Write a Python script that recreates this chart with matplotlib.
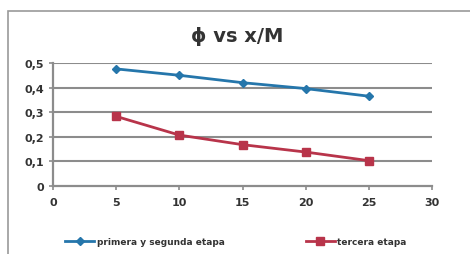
import numpy as np
import matplotlib
matplotlib.use('Agg')
import matplotlib.pyplot as plt
from matplotlib.patches import Rectangle
from matplotlib.ticker import FuncFormatter

# Data
x_vals = [5, 10, 15, 20, 25]
primera = [0.476, 0.450, 0.420, 0.396, 0.365]
tercera = [0.283, 0.207, 0.168, 0.138, 0.103]
labels = ['primera y segunda etapa', 'tercera etapa']

blue = '#2576ab'
red = '#b8344a'
grey = '#8c8c8c'
txt = '#333333'

fig = plt.figure(figsize=(4.7, 2.55), dpi=100)
fig.patch.set_facecolor('white')

# outer chart frame (cut off at right/bottom)
fig.patches.append(Rectangle((8/470, -0.1), 1.2, 1 - 12/255 + 0.1,
                             transform=fig.transFigure, fill=False,
                             edgecolor='#9a9a9a', lw=1.2))

ax = fig.add_axes([53/470, 1 - 187/255, 379/470, 123/255])
ax.set_xlim(0, 30)
ax.set_ylim(0, 0.5)
ax.set_xticks(np.arange(0, 31, 5))
ax.set_yticks(np.arange(0, 0.51, 0.1))
ax.yaxis.set_major_formatter(FuncFormatter(lambda v, p: ('%.1f' % v).replace('.', ',') if v > 0 else '0'))

for y in np.arange(0.1, 0.51, 0.1):
    ax.axhline(y, color=grey, lw=1.5, zorder=1)

ax.plot(x_vals, primera, color=blue, lw=2, marker='D', ms=4, label=labels[0], zorder=3)
ax.plot(x_vals, tercera, color=red, lw=2, marker='s', ms=6, label=labels[1], zorder=3)

for s in ['top', 'right']:
    ax.spines[s].set_visible(False)
for s in ['left', 'bottom']:
    ax.spines[s].set_color(grey)
    ax.spines[s].set_linewidth(1.6)
ax.tick_params(direction='out', length=3, color=grey, width=1.2, labelsize=8, labelcolor=txt)
for lbl in ax.get_xticklabels() + ax.get_yticklabels():
    lbl.set_fontweight('bold')
ax.tick_params(axis='x', pad=5)

fig.text(0.505, 1 - 37/255, 'ϕ vs x/M', ha='center', va='center',
         fontsize=14, fontweight='bold', color=txt)

leg = fig.legend(loc='center', bbox_to_anchor=(0.502, 1 - 243/255), ncol=2,
                 frameon=False, fontsize=6.5, columnspacing=9, handlelength=3.2,
                 handletextpad=0.3)
for t in leg.get_texts():
    t.set_color(txt)
    t.set_fontweight('bold')

fig.savefig('out.png', dpi=100)
